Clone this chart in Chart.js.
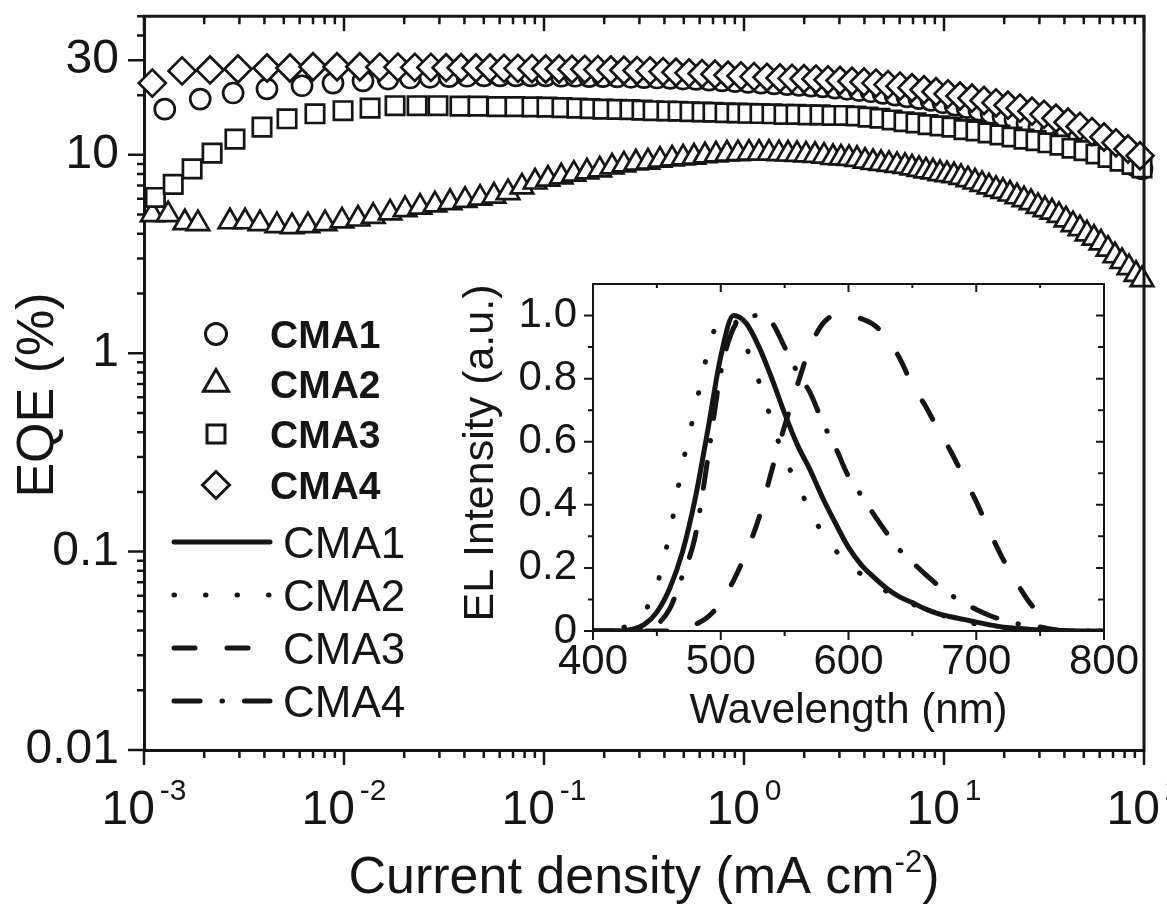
<!DOCTYPE html>
<html>
<head>
<meta charset="utf-8">
<script src="https://cdn.jsdelivr.net/npm/chart.js@4.4.1/dist/chart.umd.min.js"></script>
<style>
  html, body { margin: 0; padding: 0; background: #ffffff; }
  #wrap { position: relative; width: 1167px; height: 906px; overflow: hidden; background: #ffffff; }
  #main { position: absolute; left: 0; top: 0; width: 1167px; height: 906px; }
  #inset { position: absolute; left: 440px; top: 262px; width: 720px; height: 480px; }
</style>
</head>
<body>
<div id="wrap">
  <canvas id="main" width="1167" height="906"></canvas>
  <canvas id="inset" width="720" height="480"></canvas>
</div>
<script>
// ---------------- DATA ----------------
const seriesNames = ['CMA1', 'CMA2', 'CMA3', 'CMA4'];

// EQE (%) vs current density (mA cm^-2)
const cma1J = [
  0.00127, 0.00191, 0.00279, 0.00412, 0.00617, 0.00881, 0.01245, 0.0166,
  0.0214, 0.0269, 0.0335, 0.0412, 0.0501, 0.0603, 0.0724, 0.0861,
  0.102, 0.122, 0.143, 0.168, 0.197, 0.232, 0.272, 0.316,
  0.367, 0.427, 0.495, 0.575, 0.668, 0.776, 0.902, 1.047,
  1.216, 1.413, 1.641, 1.884, 2.163, 2.483, 2.851, 3.273,
  3.758, 4.315, 4.955, 5.689, 6.531, 7.499, 8.61, 9.886,
  11.35, 13.03, 14.96, 17.18, 19.72, 22.65, 26.0, 29.85,
  34.28, 39.36, 45.19, 51.88, 59.57, 68.39, 78.52, 90.16, 97.7
];
const cma1EQE = [
  17.0, 19.1, 20.5, 21.5, 22.3, 23.0, 23.6, 24.1,
  24.4, 24.6, 24.8, 24.9, 25.0, 25.0, 25.0, 25.0,
  25.0, 24.9, 24.9, 24.8, 24.8, 24.7, 24.6, 24.5,
  24.4, 24.3, 24.1, 24.0, 23.8, 23.6, 23.4, 23.2,
  23.0, 22.8, 22.6, 22.4, 22.2, 22.0, 21.7, 21.4,
  21.1, 20.8, 20.4, 20.0, 19.6, 19.2, 18.8, 18.3,
  17.8, 17.3, 16.8, 16.2, 15.6, 15.0, 14.4, 13.8,
  13.1, 12.5, 11.8, 11.2, 10.6, 10.0, 9.4, 8.8, 8.5
];

const cma2J = [
  0.0011, 0.00132, 0.0016, 0.00186, 0.00269, 0.0032, 0.0038, 0.00462,
  0.0055, 0.0066, 0.00804, 0.00977, 0.01175, 0.014, 0.017, 0.0202,
  0.024, 0.0285, 0.0339, 0.0403, 0.0479, 0.0562, 0.0661, 0.0776,
  0.0902, 0.1047, 0.122, 0.141, 0.164, 0.19, 0.219, 0.251,
  0.288, 0.331, 0.38, 0.437, 0.496, 0.562, 0.638, 0.724,
  0.822, 0.933, 1.059, 1.189, 1.334, 1.496, 1.66, 1.841,
  2.042, 2.265, 2.512, 2.786, 3.055, 3.35, 3.673, 4.027,
  4.416, 4.842, 5.309, 5.821, 6.383, 6.918, 7.499, 8.128,
  8.81, 9.55, 10.35, 11.22, 12.16, 13.18, 14.29, 15.49,
  16.79, 18.2, 19.72, 21.38, 23.17, 25.12, 27.23, 29.51,
  31.99, 34.67, 37.58, 40.74, 44.16, 47.86, 51.88, 56.23,
  60.95, 66.07, 71.61, 77.62, 84.14, 91.2, 97.72
];
const cma2EQE = [
  5.0, 5.0, 4.55, 4.5, 4.6, 4.6, 4.5, 4.4,
  4.35, 4.4, 4.5, 4.65, 4.75, 4.9, 5.1, 5.3,
  5.45, 5.6, 5.75, 5.9, 6.05, 6.2, 6.45, 6.9,
  7.3, 7.55, 7.75, 8.0, 8.2, 8.4, 8.7, 8.9,
  9.1, 9.2, 9.4, 9.55, 9.65, 9.75, 9.9, 10.0,
  10.1, 10.15, 10.2, 10.2, 10.2, 10.15, 10.1, 10.05,
  10.0, 9.95, 9.85, 9.7, 9.65, 9.6, 9.5, 9.3,
  9.15, 9.05, 8.95, 8.85, 8.75, 8.6, 8.45, 8.3,
  8.2, 8.05, 7.95, 7.85, 7.7, 7.5, 7.3, 7.1,
  6.9, 6.7, 6.55, 6.35, 6.15, 5.95, 5.75, 5.5,
  5.3, 5.15, 4.95, 4.7, 4.45, 4.25, 4.0, 3.8,
  3.6, 3.35, 3.1, 2.9, 2.7, 2.5, 2.35
];

const cma3J = [
  0.00114, 0.0014, 0.00174, 0.00219, 0.00285, 0.00389, 0.00519, 0.00716,
  0.00989, 0.0135, 0.018, 0.0232, 0.0295, 0.038, 0.0468, 0.0582,
  0.0716, 0.0871, 0.1035, 0.123, 0.146, 0.17, 0.197, 0.232,
  0.269, 0.309, 0.351, 0.412, 0.468, 0.537, 0.617, 0.7,
  0.804, 0.923, 1.047, 1.202, 1.38, 1.585, 1.82, 2.089,
  2.399, 2.754, 3.162, 3.631, 4.169, 4.786, 5.495, 6.31,
  7.244, 8.318, 9.55, 10.96, 12.59, 14.45, 16.6, 19.05,
  21.88, 25.12, 28.84, 33.11, 38.02, 43.65, 50.12, 57.54,
  66.07, 75.86, 87.1, 97.72
];
const cma3EQE = [
  6.1, 7.1, 8.5, 10.2, 12.0, 13.8, 15.2, 16.1,
  16.7, 17.2, 17.7, 17.7, 17.7, 17.6, 17.6, 17.5,
  17.5, 17.45, 17.4, 17.3, 17.2, 17.1, 17.0, 16.95,
  16.9, 16.8, 16.7, 16.65, 16.6, 16.5, 16.45, 16.4,
  16.3, 16.25, 16.2, 16.15, 16.1, 16.0, 16.0, 15.9,
  15.9, 15.8, 15.8, 15.7, 15.5, 15.3, 15.0, 14.7,
  14.5, 14.2, 14.0, 13.8, 13.4, 13.2, 12.9, 12.6,
  12.3, 12.0, 11.8, 11.5, 11.2, 10.8, 10.5, 10.1,
  9.7, 9.3, 8.95, 8.6
];

const cma4J = [
  0.0011, 0.00155, 0.00214, 0.00295, 0.00412, 0.00537, 0.007, 0.00923,
  0.012, 0.0151, 0.0186, 0.0226, 0.0272, 0.0324, 0.0385, 0.0457,
  0.0537, 0.0631, 0.0741, 0.0871, 0.102, 0.119, 0.138, 0.16,
  0.186, 0.216, 0.251, 0.292, 0.339, 0.394, 0.457, 0.531,
  0.617, 0.716, 0.832, 0.966, 1.122, 1.303, 1.514, 1.738,
  1.995, 2.291, 2.63, 3.02, 3.467, 3.981, 4.571, 5.248,
  6.026, 6.918, 7.943, 9.12, 10.47, 12.02, 13.8, 15.85,
  18.2, 20.89, 23.99, 27.54, 31.62, 36.31, 41.69, 47.86,
  54.95, 63.1, 72.44, 83.18, 95.5
];
const cma4EQE = [
  23.0, 26.5, 26.8, 27.1, 27.4, 27.4, 27.8, 27.8,
  27.8, 27.7, 27.7, 27.6, 27.6, 27.5, 27.5, 27.4,
  27.4, 27.3, 27.3, 27.2, 27.1, 27.1, 27.0, 27.0,
  26.9, 26.8, 26.7, 26.6, 26.5, 26.3, 26.1, 25.9,
  25.7, 25.5, 25.2, 25.0, 24.8, 24.6, 24.4, 24.3,
  24.2, 24.1, 23.9, 23.7, 23.5, 23.3, 23.0, 22.6,
  22.2, 21.8, 21.3, 20.8, 20.3, 19.8, 19.3, 18.8,
  18.3, 17.8, 17.2, 16.6, 16.0, 15.3, 14.6, 13.9,
  13.1, 12.3, 11.5, 10.7, 9.9
];

// Inset: EL spectra
const wavelength = [
  400, 410, 420, 430, 440, 450, 460, 470, 480, 490,
  500, 510, 520, 530, 540, 550, 560, 570, 580, 590,
  600, 610, 620, 630, 640, 650, 660, 670, 680, 690,
  700, 710, 720, 730, 740, 750, 760, 770, 780, 790, 800
];
const el1 = [
  0, 0, 0, 0.005, 0.02, 0.06, 0.135, 0.25, 0.42, 0.64,
  0.87, 1.0, 0.975, 0.9, 0.8, 0.69, 0.59, 0.51, 0.42, 0.34,
  0.265, 0.21, 0.17, 0.135, 0.108, 0.09, 0.07, 0.055, 0.045, 0.037,
  0.028, 0.02, 0.013, 0.009, 0.006, 0.003, 0.001, 0, 0, 0, 0
];
const el2 = [
  0, 0, 0.005, 0.025, 0.06, 0.145, 0.31, 0.525, 0.705, 0.885,
  0.99, 0.985, 0.9, 0.79, 0.665, 0.545, 0.47, 0.377, 0.31, 0.255,
  0.21, 0.18, 0.15, 0.125, 0.105, 0.085, 0.07, 0.055, 0.04, 0.03,
  0.022, 0.015, 0.01, 0.006, 0.003, 0.001, 0, 0, 0, 0, 0
];
const el3 = [
  0, 0, 0, 0, 0, 0, 0, 0, 0.02, 0.045,
  0.09, 0.16, 0.25, 0.36, 0.51, 0.65, 0.78, 0.9, 0.975, 1.0,
  1.0, 0.99, 0.97, 0.93, 0.865, 0.78, 0.715, 0.64, 0.57, 0.49,
  0.41, 0.32, 0.235, 0.165, 0.1, 0.05, 0.005, 0, 0, 0, 0
];
const el4 = [
  0, 0, 0, 0, 0.003, 0.02, 0.07, 0.175, 0.3, 0.55,
  0.82, 0.96, 0.993, 1.0, 0.978, 0.9, 0.82, 0.755, 0.66, 0.58,
  0.49, 0.43, 0.368, 0.31, 0.257, 0.218, 0.18, 0.145, 0.115, 0.09,
  0.068, 0.05, 0.036, 0.025, 0.018, 0.013, 0.005, 0, 0, 0, 0
];

// Tick labels
const eqeLabelledTicks = [0.01, 0.1, 1, 10, 30];
const jExponents = [-3, -2, -1, 0, 1, 2];
const wavelengthLabels = [400, 500, 600, 700, 800];
const elLabelledTicks = [0, 0.2, 0.4, 0.6, 0.8, 1.0];

// Axis titles
const mainXTitle = ['Current density (mA cm', '-2', ')'];
const mainYTitle = 'EQE (%)';
const insetXTitle = 'Wavelength (nm)';
const insetYTitle = 'EL Intensity (a.u.)';

// ---------------- STYLE ----------------
const FONT = "'Liberation Sans', Arial, Helvetica, sans-serif";
const INK = '#151515';

function logTicks(minE, maxE, lo, hi) {
  const out = [];
  for (let e = minE; e <= maxE; e++) {
    for (let m = 1; m <= 9; m++) {
      const v = parseFloat((m * Math.pow(10, e)).toPrecision(6));
      if (v >= lo * 0.999999 && v <= hi * 1.000001) out.push(v);
    }
  }
  return out;
}
const near = (a, b) => Math.abs(a - b) <= Math.abs(b) * 1e-6 + 1e-12;
const isLabelledEqe = v => eqeLabelledTicks.some(t => near(v, t));
const isPow10 = v => { const l = Math.log10(v); return Math.abs(l - Math.round(l)) < 1e-9; };
const noPad = s => { s.paddingTop = 0; s.paddingBottom = 0; };

function shapePath(ctx, style, r, x, y) {
  ctx.beginPath();
  if (style === 'circle') {
    ctx.arc(x, y, r, 0, Math.PI * 2);
  } else if (style === 'triangle') {
    ctx.moveTo(x, y - r);
    ctx.lineTo(x + r * Math.sin(2 * Math.PI / 3), y - r * Math.cos(2 * Math.PI / 3));
    ctx.lineTo(x + r * Math.sin(4 * Math.PI / 3), y - r * Math.cos(4 * Math.PI / 3));
    ctx.closePath();
  } else if (style === 'rect') {
    const s = r * Math.SQRT1_2;
    ctx.rect(x - s, y - s, 2 * s, 2 * s);
  } else {
    ctx.moveTo(x - r, y); ctx.lineTo(x, y - r); ctx.lineTo(x + r, y); ctx.lineTo(x, y + r);
    ctx.closePath();
  }
}

const markerStyles = ['circle', 'triangle', 'rect', 'rectRot'];
const lineDashes = [[], [0.5, 31], [21, 32], [26, 22, 0.5, 22]];

const mainDecor = {
  id: 'mainDecor',
  afterDraw(chart) {
    const { ctx, chartArea: a, scales: { x, y } } = chart;
    ctx.save();
    ctx.strokeStyle = INK;
    ctx.fillStyle = INK;
    // top + right frame
    ctx.lineWidth = 3;
    ctx.beginPath();
    ctx.moveTo(a.left - 1.5, a.top);
    ctx.lineTo(a.right, a.top);
    ctx.lineTo(a.right, a.bottom + 1.5);
    ctx.stroke();
    // tick marks
    ctx.lineWidth = 2.5;
    ctx.beginPath();
    x.ticks.forEach(t => {
      const px = x.getPixelForValue(t.value);
      const L = isPow10(t.value) ? 15 : 8;
      ctx.moveTo(px, a.bottom); ctx.lineTo(px, a.bottom + L);
      ctx.moveTo(px, a.top); ctx.lineTo(px, a.top + L);
    });
    y.ticks.forEach(t => {
      const py = y.getPixelForValue(t.value);
      const L = isLabelledEqe(t.value) ? 16 : 7;
      ctx.moveTo(a.left, py); ctx.lineTo(a.left - L, py);
    });
    ctx.stroke();

    // x tick labels 10^n
    ctx.textAlign = 'left';
    ctx.textBaseline = 'alphabetic';
    const gap = 5;
    jExponents.forEach(e => {
      const px = x.getPixelForValue(Math.pow(10, e));
      ctx.font = `48px ${FONT}`;
      const wb = ctx.measureText('10').width;
      ctx.font = `30px ${FONT}`;
      const es = String(e);
      const we = ctx.measureText(es).width;
      const x0 = px - (wb + gap + we) / 2;
      ctx.font = `48px ${FONT}`;
      ctx.fillText('10', x0, 824);
      ctx.font = `30px ${FONT}`;
      ctx.fillText(es, x0 + wb + gap, 800);
    });

    // x title with superscript
    ctx.font = `52px ${FONT}`;
    const w1 = ctx.measureText(mainXTitle[0]).width;
    const w3 = ctx.measureText(mainXTitle[2]).width;
    ctx.font = `31px ${FONT}`;
    const w2 = ctx.measureText(mainXTitle[1]).width;
    const cx = (a.left + a.right) / 2;
    const tx = cx - (w1 + w2 + w3) / 2;
    ctx.font = `52px ${FONT}`;
    ctx.fillText(mainXTitle[0], tx, 893);
    ctx.font = `31px ${FONT}`;
    ctx.fillText(mainXTitle[1], tx + w1, 872);
    ctx.font = `52px ${FONT}`;
    ctx.fillText(mainXTitle[2], tx + w1 + w2, 893);

    // y title
    ctx.save();
    ctx.translate(53, 395);
    ctx.rotate(-Math.PI / 2);
    ctx.textAlign = 'center';
    ctx.font = `52px ${FONT}`;
    ctx.fillText(mainYTitle, 0, 0);
    ctx.restore();

    // legend: markers
    const mk = [
      { r: 10.5, y: 334 }, { r: 14.5, y: 384 }, { r: 12.7, y: 434 }, { r: 13.5, y: 485 }
    ];
    ctx.lineWidth = 3;
    mk.forEach((m, i) => {
      shapePath(ctx, markerStyles[i], m.r, 216, m.y);
      ctx.fillStyle = '#ffffff';
      ctx.fill();
      ctx.stroke();
      ctx.fillStyle = INK;
      ctx.font = `bold 39px ${FONT}`;
      ctx.textAlign = 'left';
      ctx.textBaseline = 'alphabetic';
      ctx.fillText(seriesNames[i], 270, m.y + 14);
    });
    // legend: lines
    const ly = [542, 595, 648, 701];
    ly.forEach((yy, i) => {
      ctx.save();
      ctx.lineWidth = 5;
      ctx.lineCap = 'round';
      ctx.setLineDash(lineDashes[i]);
      ctx.beginPath();
      ctx.moveTo(174, yy);
      ctx.lineTo(270, yy);
      ctx.stroke();
      ctx.restore();
      ctx.font = `44px ${FONT}`;
      ctx.fillText(seriesNames[i], 283, yy + 16);
    });
    ctx.restore();
  }
};

const pts = (xs, ys) => xs.map((v, i) => ({ x: v, y: ys[i] }));
const mainSets = [
  { J: cma1J, E: cma1EQE, r: 10, order: 2 },
  { J: cma2J, E: cma2EQE, r: 13, order: 3 },
  { J: cma3J, E: cma3EQE, r: 13, order: 1 },
  { J: cma4J, E: cma4EQE, r: 13.5, order: 0 }
];

new Chart(document.getElementById('main'), {
  type: 'scatter',
  data: {
    datasets: mainSets.map((s, i) => ({
      label: seriesNames[i],
      data: pts(s.J, s.E),
      pointStyle: markerStyles[i],
      pointRadius: s.r,
      pointBorderWidth: 2.7,
      pointBorderColor: INK,
      pointBackgroundColor: '#ffffff',
      showLine: false,
      order: s.order,
      clip: false
    }))
  },
  options: {
    responsive: false,
    animation: false,
    events: [],
    layout: { padding: { top: 15, right: 23, left: 0, bottom: 0 } },
    plugins: { legend: { display: false }, tooltip: { enabled: false } },
    scales: {
      x: {
        type: 'logarithmic', position: 'bottom', min: 0.001, max: 100,
        grid: { display: false, drawTicks: false },
        border: { display: true, color: INK, width: 3 },
        ticks: { display: false },
        afterBuildTicks: s => { s.ticks = logTicks(-3, 2, 0.001, 100).map(v => ({ value: v })); },
        afterFit: s => { s.height = 156; s.paddingLeft = 0; s.paddingRight = 0; }
      },
      y: {
        type: 'logarithmic', position: 'left', min: 0.01, max: 50,
        grid: { display: false, drawTicks: false },
        border: { display: true, color: INK, width: 3 },
        ticks: {
          autoSkip: false, padding: 25, color: INK,
          font: { family: FONT, size: 48 },
          callback: v => { const t = eqeLabelledTicks.find(k => near(v, k)); return t === undefined ? '' : String(t); }
        },
        afterBuildTicks: s => { s.ticks = logTicks(-2, 1, 0.01, 50).map(v => ({ value: v })); },
        afterFit: s => { s.width = 144; noPad(s); }
      }
    }
  },
  plugins: [mainDecor]
});

// ---------------- INSET ----------------
const insetDecor = {
  id: 'insetDecor',
  afterDraw(chart) {
    const { ctx, chartArea: a, scales: { x, y } } = chart;
    ctx.save();
    ctx.strokeStyle = INK;
    ctx.fillStyle = INK;
    ctx.lineWidth = 2;
    ctx.beginPath();
    ctx.moveTo(a.left - 1, a.top);
    ctx.lineTo(a.right, a.top);
    ctx.lineTo(a.right, a.bottom + 1);
    ctx.stroke();
    ctx.beginPath();
    x.ticks.forEach(t => {
      const px = x.getPixelForValue(t.value);
      const maj = wavelengthLabels.includes(Math.round(t.value));
      ctx.moveTo(px, a.bottom); ctx.lineTo(px, a.bottom + (maj ? 9 : 5));
      ctx.moveTo(px, a.top); ctx.lineTo(px, a.top + (maj ? 8 : 4));
    });
    y.ticks.forEach(t => {
      if (t.value > 1.05) return;
      const py = y.getPixelForValue(t.value);
      const maj = elLabelledTicks.some(k => Math.abs(k - t.value) < 1e-6);
      ctx.moveTo(a.left, py); ctx.lineTo(a.left - (maj ? 9 : 5), py);
      ctx.moveTo(a.right, py); ctx.lineTo(a.right - (maj ? 8 : 6), py);
    });
    ctx.stroke();
    // titles
    ctx.font = `42px ${FONT}`;
    ctx.textAlign = 'center';
    ctx.textBaseline = 'alphabetic';
    ctx.fillText(insetXTitle, (a.left + a.right) / 2, 461);
    ctx.save();
    ctx.translate(53, 191);
    ctx.rotate(-Math.PI / 2);
    ctx.font = `43px ${FONT}`;
    ctx.fillText(insetYTitle, 0, 0);
    ctx.restore();
    ctx.restore();
  }
};

const elSets = [el1, el2, el3, el4];
new Chart(document.getElementById('inset'), {
  type: 'line',
  data: {
    datasets: elSets.map((d, i) => ({
      label: seriesNames[i],
      data: pts(wavelength, d),
      borderColor: INK,
      borderWidth: 5,
      borderDash: lineDashes[i],
      borderCapStyle: 'round',
      borderJoinStyle: 'round',
      cubicInterpolationMode: 'monotone',
      pointRadius: 0,
      fill: false
    }))
  },
  options: {
    responsive: false,
    animation: false,
    events: [],
    layout: { padding: { top: 22, right: 56, left: 0, bottom: 0 } },
    plugins: { legend: { display: false }, tooltip: { enabled: false } },
    scales: {
      x: {
        type: 'linear', min: 400, max: 800,
        grid: { display: false, drawTicks: false },
        border: { display: true, color: INK, width: 2 },
        ticks: {
          stepSize: 50, autoSkip: false, maxRotation: 0, padding: 6, color: INK,
          font: { family: FONT, size: 42 },
          callback: v => wavelengthLabels.includes(Math.round(v)) && Math.abs(v - Math.round(v)) < 1e-6 ? String(Math.round(v)) : ''
        },
        afterFit: s => { s.height = 111; }
      },
      y: {
        type: 'linear', min: 0, max: 1.1,
        grid: { display: false, drawTicks: false },
        border: { display: true, color: INK, width: 2 },
        ticks: {
          stepSize: 0.1, autoSkip: false, padding: 16, color: INK,
          font: { family: FONT, size: 42 },
          callback: v => {
            const t = elLabelledTicks.find(k => Math.abs(k - v) < 1e-6);
            return t === undefined ? '' : (t === 0 ? '0' : t.toFixed(1));
          }
        },
        afterFit: s => { s.width = 153; noPad(s); }
      }
    }
  },
  plugins: [insetDecor]
});
</script>
</body>
</html>
